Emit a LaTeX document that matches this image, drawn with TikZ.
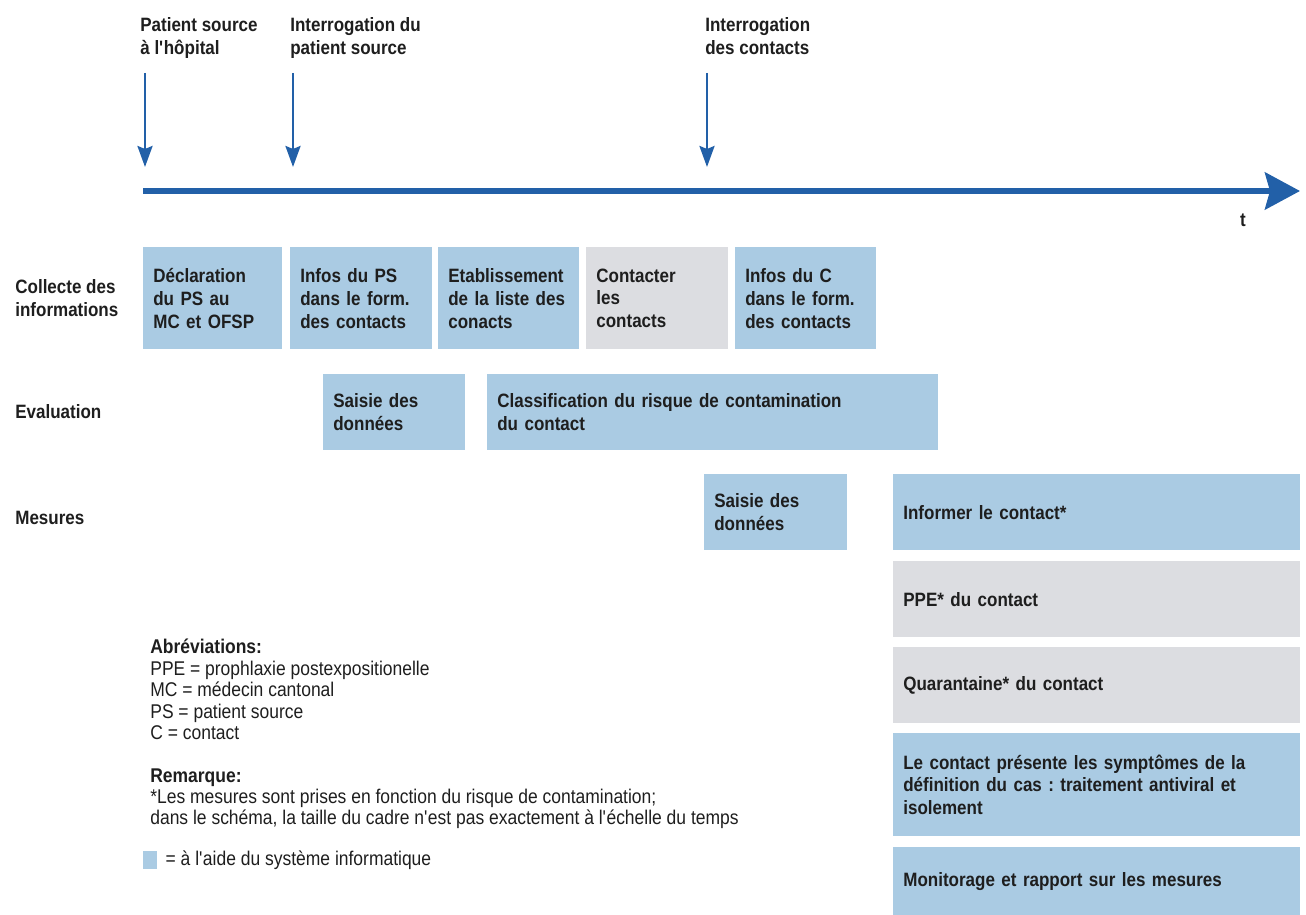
\documentclass[tikz,border=0pt]{standalone}
\usepackage{fontspec}
\setmainfont{Liberation Sans}[FakeStretch=0.88]
\usetikzlibrary{arrows.meta,positioning}

\definecolor{timeblue}{HTML}{2260A8}
\definecolor{sysblue}{HTML}{AACBE3}
\definecolor{mangray}{HTML}{DCDDE1}
\definecolor{ink}{HTML}{1E1E1E}

\newcommand{\cellfont}{\frenchspacing\bfseries\fontsize{11}{13}\selectfont}
\newcommand{\notefont}{\frenchspacing\fontsize{11.3}{12.2}\selectfont}
\newcommand{\apos}{\textquotesingle}

\tikzset{
  cell/.style={rectangle, fill=sysblue, anchor=north west, inner xsep=0.2cm,
    inner ysep=0pt, align=left, text=ink, font=\cellfont},
  manual/.style={cell, fill=mangray},
  event/.style={anchor=north west, align=left, inner sep=0pt, text=ink, font=\cellfont},
  rowlabel/.style={anchor=west, align=left, inner sep=0pt, text=ink, font=\cellfont},
  note/.style={anchor=north west, align=left, inner sep=0pt, text=ink, font=\notefont},
  tick/.style={draw=timeblue, line width=1.5pt, -{Stealth[length=0.42cm,width=0.3cm,inset=0.06cm]}},
  axis/.style={draw=timeblue, line width=3.4pt, -{Stealth[length=0.7cm,width=0.74cm,inset=0.1cm]}},
}

\begin{document}
\begin{tikzpicture}[x=0.02cm, y=0.02cm]
\useasboundingbox (0,0) rectangle (1306,-915);

% events
\node[event] (ev1) at (140,-17) {Patient source\\à l\apos hôpital};
\node[event] (ev2) at (290,-17) {Interrogation du\\patient source};
\node[event] (ev3) at (705,-17) {Interrogation\\des contacts};

\coordinate (ev1a) at (145,-73);
\coordinate (ev1b) at (145,-167);
\coordinate (ev2a) at (293,-73);
\coordinate (ev2b) at (293,-167);
\coordinate (ev3a) at (707,-73);
\coordinate (ev3b) at (707,-167);
\draw[tick] (ev1a) -- (ev1b);
\draw[tick] (ev2a) -- (ev2b);
\draw[tick] (ev3a) -- (ev3b);

% time axis
\coordinate (t0) at (143,-191);
\coordinate (t1) at (1300,-191);
\draw[axis] (t0) -- (t1);
\node[font=\cellfont, text=ink] (tlab) at (1243,-220) {t};

% rows
\node[rowlabel] (collecte) at (15,-298) {Collecte des\\informations};
\node[rowlabel] (evaluation) at (15,-412) {Evaluation};
\node[rowlabel] (mesures) at (15,-518) {Mesures};

% collecte des informations
\node[cell, minimum width=2.78cm, text width=2.38cm, minimum height=2.04cm] (decl) at (143,-247)
  {Déclaration\\du PS au\\MC et OFSP};
\node[cell, minimum width=2.84cm, text width=2.44cm, minimum height=2.04cm] (infops) at (290,-247)
  {Infos du PS\\dans le form.\\des contacts};
\node[cell, minimum width=2.82cm, text width=2.42cm, minimum height=2.04cm] (liste) at (438,-247)
  {Etablissement\\de la liste des\\conacts};
\node[manual, minimum width=2.84cm, text width=2.44cm, minimum height=2.04cm] (contacter) at (586,-247)
  {Contacter\\les\\contacts};
\node[cell, minimum width=2.82cm, text width=2.42cm, minimum height=2.04cm] (infoc) at (735,-247)
  {Infos du C\\dans le form.\\des contacts};

% evaluation
\node[cell, minimum width=2.84cm, text width=2.44cm, minimum height=1.52cm] (saisie1) at (323,-374)
  {Saisie des\\données};
\node[cell, minimum width=9.02cm, text width=8.62cm, minimum height=1.52cm] (classif) at (487,-374)
  {Classification du risque de contamination\\du contact};

% mesures
\node[cell, minimum width=2.86cm, text width=2.46cm, minimum height=1.52cm] (saisie2) at (704,-474)
  {Saisie des\\données};
\node[cell, minimum width=8.14cm, text width=7.74cm, minimum height=1.52cm] (informer) at (893,-474)
  {Informer le contact*};
\node[manual, minimum width=8.14cm, text width=7.74cm, minimum height=1.52cm] (ppe) at (893,-561)
  {PPE* du contact};
\node[manual, minimum width=8.14cm, text width=7.74cm, minimum height=1.52cm] (quarantaine) at (893,-647)
  {Quarantaine* du contact};
\node[cell, minimum width=8.14cm, text width=7.74cm, minimum height=2.06cm] (symptomes) at (893,-733)
  {Le contact présente les symptômes de la\\définition du cas : traitement antiviral et\\isolement};
\node[cell, minimum width=8.14cm, text width=7.74cm, minimum height=1.36cm] (monitorage) at (893,-847)
  {Monitorage et rapport sur les mesures};

% legend
\node[note] (abbr) at (150,-639)
  {\textbf{Abréviations:}\\PPE = prophlaxie postexpositionelle\\MC = médecin cantonal\\PS = patient source\\C = contact};
\node[note] (remarque) at (150,-768)
  {\textbf{Remarque:}\\*Les mesures sont prises en fonction du risque de contamination;\\dans le schéma, la taille du cadre n\apos est pas exactement à l\apos échelle du temps};
\node[fill=sysblue, minimum width=0.28cm, minimum height=0.36cm, inner sep=0pt] (keysq) at (150,-860) {};
\node[note, anchor=west, right=0.16cm of keysq] (keytext) {= à l\apos aide du système informatique};

\end{tikzpicture}
\end{document}
